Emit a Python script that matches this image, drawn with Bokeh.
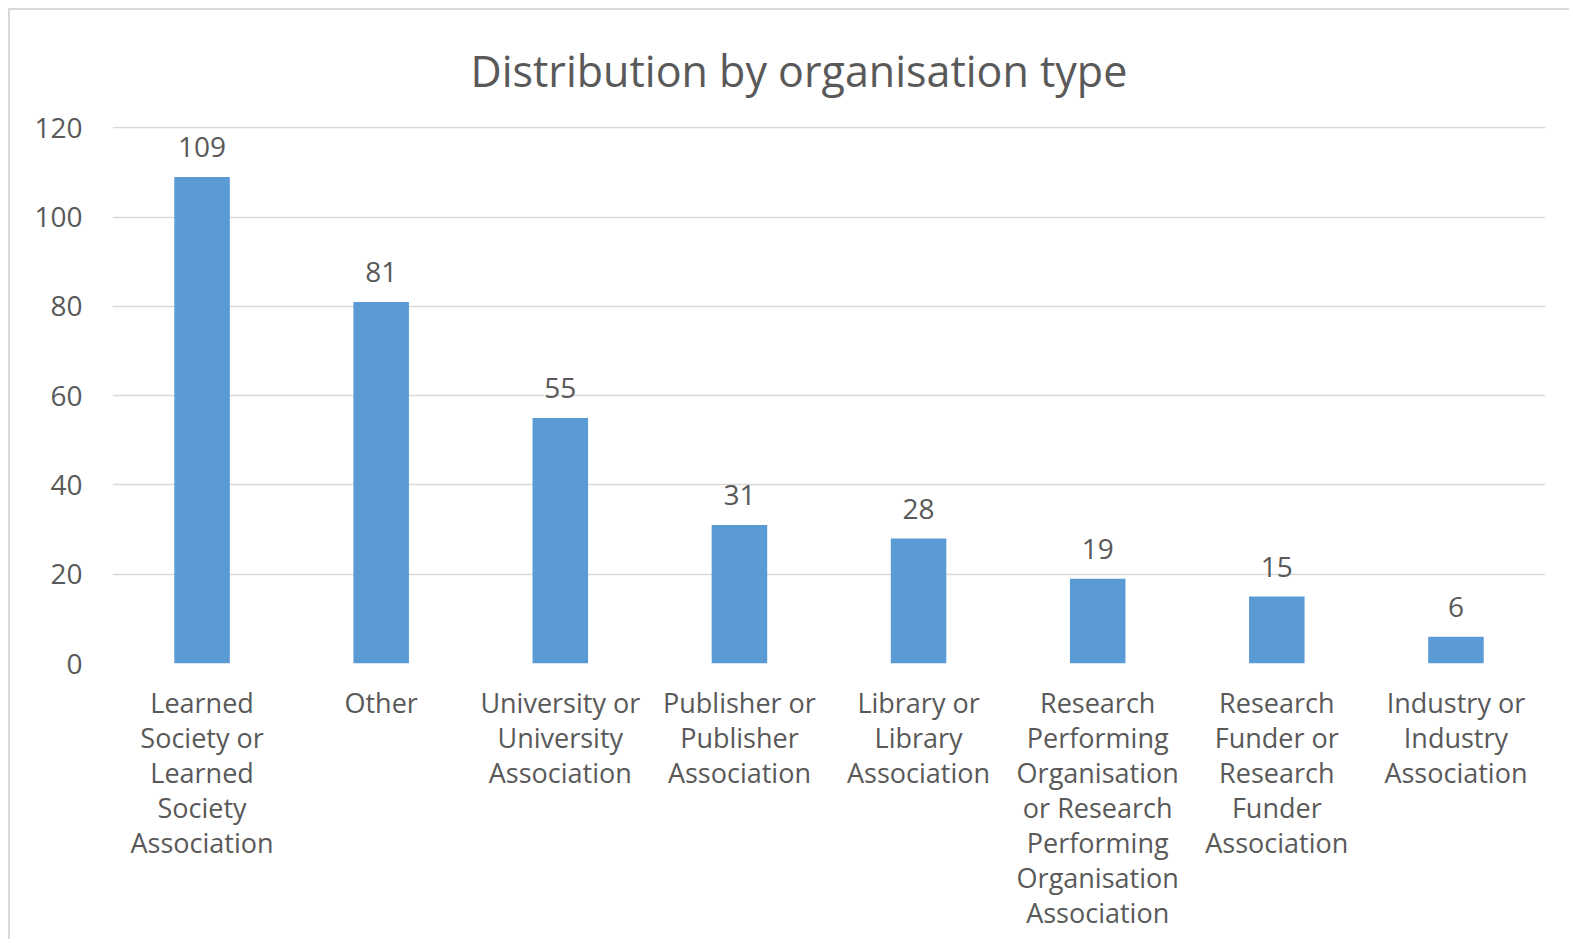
from bokeh.plotting import figure
from bokeh.models import FixedTicker, ColumnDataSource
from bokeh.core.properties import value
from bokeh.embed import file_html
from bokeh.resources import INLINE

# Category names, wrapped as in the reference
categories = [
    "Learned\nSociety or\nLearned\nSociety\nAssociation",
    "Other",
    "University or\nUniversity\nAssociation",
    "Publisher or\nPublisher\nAssociation",
    "Library or\nLibrary\nAssociation",
    "Research\nPerforming\nOrganisation\nor Research\nPerforming\nOrganisation\nAssociation",
    "Research\nFunder or\nResearch\nFunder\nAssociation",
    "Industry or\nIndustry\nAssociation",
]
counts = [109, 81, 55, 31, 28, 19, 15, 6]
y_ticks = [0, 20, 40, 60, 80, 100, 120]

FONT = "Open Sans"
TXT = "#595959"
GRID = "#D9D9D9"
BAR = "#5B9BD5"

src = ColumnDataSource(dict(cat=categories, n=counts, lab=[str(v) for v in counts]))

p = figure(
    width=1561, height=931,
    x_range=categories, y_range=(0, 120.3),
    output_backend="svg", toolbar_location=None,
    title="Distribution by organisation type",
    min_border_left=102, min_border_right=26,
    min_border_bottom=278, min_border_top=116,
)
p.styles = {"margin-left": "8px", "margin-top": "8px",
            "border-left": "2px solid #D9D9D9", "border-top": "2px solid #D9D9D9"}
p.title.align = "left"
p.title.offset = 358
p.title.text_font = FONT
p.title.text_font_size = "43px"
p.title.text_font_style = "normal"
p.title.text_color = TXT
p.title.standoff = 53

p.vbar(x="cat", top="n", width=0.31, source=src, color=BAR, line_color=None)
p.text(x="cat", y="n", text="lab", source=src, text_align="center",
       text_baseline="alphabetic", y_offset=-30,
       text_font=value(FONT), text_font_size="28px", text_color=TXT)

p.outline_line_color = None
p.background_fill_color = "white"
p.border_fill_color = "white"

p.xgrid.grid_line_color = None
p.ygrid.grid_line_color = GRID
p.ygrid.grid_line_width = 1.5
p.yaxis.ticker = FixedTicker(ticks=y_ticks)
p.yaxis.axis_line_color = None
p.yaxis.major_tick_line_color = None
p.yaxis.minor_tick_line_color = None
p.yaxis.major_label_standoff = 24
p.yaxis.major_label_text_font = FONT
p.yaxis.major_label_text_font_size = "28px"
p.yaxis.major_label_text_color = TXT

p.xaxis.axis_line_color = None
p.xaxis.major_tick_line_color = None
p.xaxis.major_label_standoff = 14
p.xaxis.major_label_text_font = FONT
p.xaxis.major_label_text_font_size = "27px"
p.xaxis.major_label_text_color = TXT
p.xaxis.major_label_text_line_height = 0.95

open("out.html", "w").write(file_html(p, INLINE))
